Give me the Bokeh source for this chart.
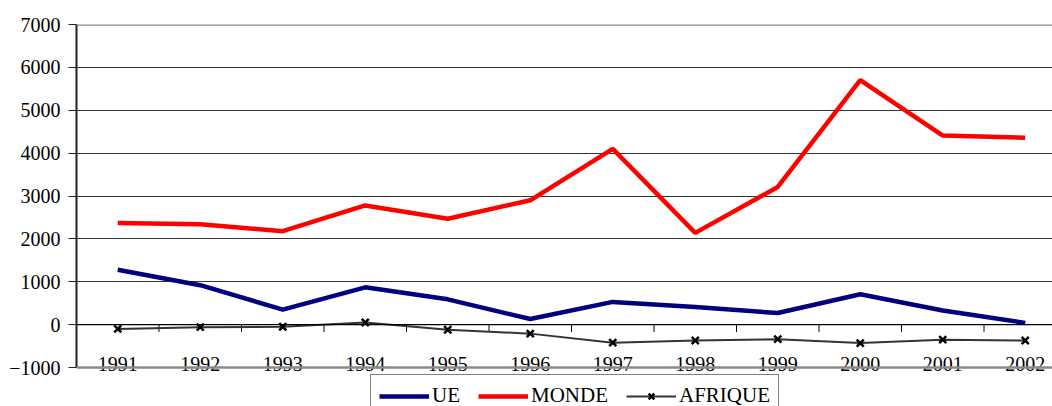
from bokeh.plotting import figure
from bokeh.models import Range1d, FixedTicker, Span, Legend, LegendItem, ColumnDataSource
from bokeh.core.properties import value
from bokeh.embed import file_html
from bokeh.resources import INLINE

years = [1991, 1992, 1993, 1994, 1995, 1996, 1997, 1998, 1999, 2000, 2001, 2002]
ue = [1280, 920, 350, 870, 590, 130, 530, 410, 270, 710, 330, 40]
monde = [2370, 2340, 2180, 2780, 2470, 2900, 4100, 2140, 3210, 5700, 4410, 4360]
afrique = [-100, -60, -50, 50, -120, -210, -420, -370, -340, -430, -350, -370]
year_labels = [str(y) for y in years]
y_ticks = [-1000, 0, 1000, 2000, 3000, 4000, 5000, 6000, 7000]

FONT = "serif"

# frame runs to the bottom of the canvas; -1000 sits 39px above it
units_per_px = 8000 / 343
y_start = -1000 - 39 * units_per_px

p = figure(width=1052, height=406, output_backend="svg", toolbar_location=None,
           x_range=Range1d(1990.5, 1990.5 + 976 / 82.5), y_range=Range1d(y_start, 7000),
           x_axis_location=None, min_border_left=76, min_border_right=0,
           min_border_top=24, min_border_bottom=0)
p.outline_line_color = None
p.background_fill_color = "white"
p.border_fill_color = "white"

p.xgrid.visible = False
p.ygrid.ticker = FixedTicker(ticks=y_ticks)
p.ygrid.grid_line_color = "#333333"
p.ygrid.grid_line_width = 1

p.yaxis.ticker = FixedTicker(ticks=y_ticks)
p.yaxis.bounds = (-1000, 7000)
p.yaxis.axis_line_color = "#202020"
p.yaxis.axis_line_width = 2
p.yaxis.major_tick_line_color = "#202020"
p.yaxis.major_tick_out = 8
p.yaxis.major_tick_in = 0
p.yaxis.minor_tick_line_color = None
p.yaxis.major_label_text_font = FONT
p.yaxis.major_label_text_font_size = "20px"
p.yaxis.major_label_text_color = "black"
p.yaxis.major_label_standoff = 8

for yv in (y_ticks[0], y_ticks[-1]):
    p.add_layout(Span(location=yv, dimension="width", line_color="#8a8a8a", line_width=2.5))
p.add_layout(Span(location=0, dimension="width", line_color="black", line_width=1.2))

bounds = [y + 0.5 for y in years]
p.segment(x0=bounds, y0=[0] * len(bounds), x1=bounds, y1=[-170] * len(bounds),
          line_color="black", line_width=1)

src = ColumnDataSource(dict(x=years, y=[0] * len(years), t=year_labels))
p.text(x="x", y="y", text="t", source=src, text_font=value(FONT), text_font_size="20px",
       text_align="center", text_baseline="alphabetic", y_offset=39, text_color="black")

r_ue = p.line(years, ue, line_color="#000080", line_width=4.5)
r_monde = p.line(years, monde, line_color="#ff0000", line_width=4.5)
r_af = p.line(years, afrique, line_color="#333333", line_width=2)
r_afm = p.scatter(years, afrique, marker="x", size=10, line_color="black", line_width=2.5)

legend = Legend(items=[LegendItem(label="UE", renderers=[r_ue]),
                       LegendItem(label="MONDE", renderers=[r_monde]),
                       LegendItem(label="AFRIQUE", renderers=[r_af, r_afm])],
                orientation="horizontal", location=(294, -11),
                label_text_font=FONT, label_text_font_size="21px",
                glyph_width=50, glyph_height=20, label_standoff=3, spacing=18,
                padding=8, margin=0, border_line_color="black", border_line_width=1,
                background_fill_alpha=1, label_text_color="black")
p.add_layout(legend, "center")

open("out.html", "w").write(file_html(p, INLINE))
